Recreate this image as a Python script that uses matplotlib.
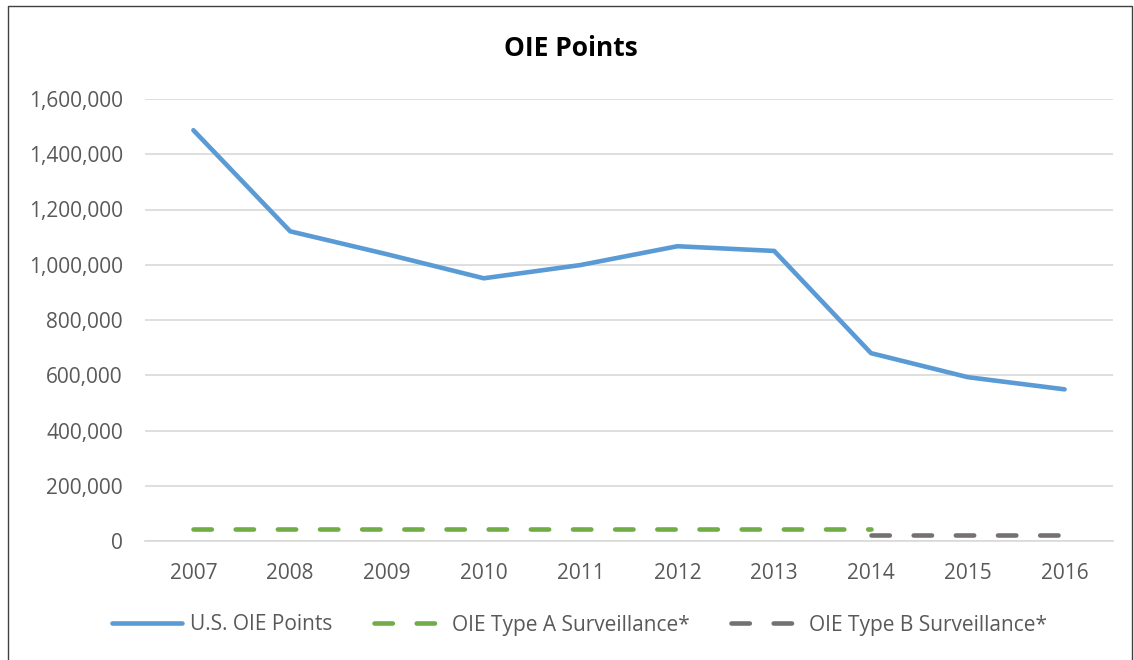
import matplotlib.pyplot as plt
from matplotlib.ticker import FuncFormatter
from matplotlib.patches import Rectangle
from matplotlib.lines import Line2D

years = ["2007", "2008", "2009", "2010", "2011", "2012", "2013", "2014", "2015", "2016"]
us_points = [1487000, 1121000, 1038000, 951000, 999000, 1067000, 1050000, 680000, 593000, 549000]
type_a = [44000, 44000, 44000, 44000, 44000, 44000, 44000, 44000]
type_b = [23000, 23000, 23000]

plt.rcParams["font.family"] = ["Open Sans", "DejaVu Sans"]
text_color = "#595959"
blue, green, gray = "#5b9bd5", "#70ad47", "#767171"
lw = 3.3
dash = (4.0, 5.2)

fig = plt.figure(figsize=(11.34, 6.6), dpi=100)
ax = fig.add_axes([145 / 1134, 1 - 541 / 660, (1113 - 145) / 1134, (541 - 99) / 660])

x = list(range(len(years)))
ax.plot(x, us_points, color=blue, lw=lw, solid_capstyle="round", zorder=3)
ax.plot(x[:len(type_a)], type_a, color=green, lw=lw, dashes=dash,
        dash_capstyle="round", zorder=3)
ax.plot(x[-len(type_b):], type_b, color=gray, lw=lw, dashes=dash,
        dash_capstyle="round", zorder=3)

ax.set_xlim(-0.5, len(years) - 0.5)
ax.set_ylim(0, 1600000)
ax.set_yticks(range(0, 1600001, 200000))
ax.yaxis.set_major_formatter(FuncFormatter(lambda v, p: f"{int(v):,}"))
ax.set_xticks(x)
ax.set_xticklabels(years)
ax.grid(axis="y", color="#d9d9d9", lw=1.2)
ax.set_axisbelow(True)
for s in ["top", "right", "left"]:
    ax.spines[s].set_visible(False)
ax.spines["bottom"].set_color("#d9d9d9")
ax.spines["bottom"].set_linewidth(1.2)
ax.tick_params(length=0, labelsize=15, colors=text_color)
ax.tick_params(axis="x", pad=16)
ax.tick_params(axis="y", pad=16)

fig.text(0.503, 1 - 48 / 660, "OIE Points", ha="center", va="center",
         fontsize=19, fontweight="bold", color="black")

# legend proxies: two dashes only for the dashed series
handles = [
    Line2D([], [], color=blue, lw=lw, solid_capstyle="round"),
    Line2D([], [], color=green, lw=lw, dashes=(4.0, 5.2, 4.0, 30), dash_capstyle="round"),
    Line2D([], [], color=gray, lw=lw, dashes=(4.0, 5.2, 4.0, 30), dash_capstyle="round"),
]
labels = ["U.S. OIE Points", "OIE Type A Surveillance*", "OIE Type B Surveillance*"]
leg = fig.legend(handles, labels, loc="center", bbox_to_anchor=(0.511, 1 - 625 / 660),
                 ncol=3, frameon=False, fontsize=15, handlelength=3.4,
                 columnspacing=2.0, handletextpad=0.35)
for t in leg.get_texts():
    t.set_color(text_color)

fig.patches.append(Rectangle((8 / 1134, -0.01), 1124 / 1134, 1 - 6 / 660 + 0.01,
                             transform=fig.transFigure, fill=False,
                             edgecolor="#404040", lw=1.0))

fig.savefig("out.png", dpi=100)
